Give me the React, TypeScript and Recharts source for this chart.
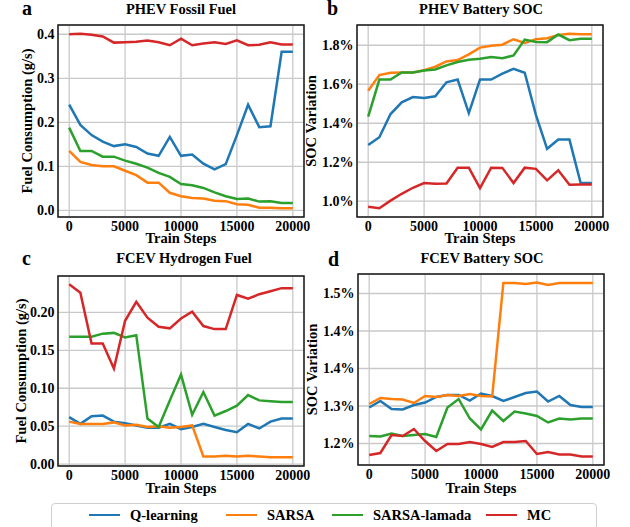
import { LineChart, Line, XAxis, YAxis, CartesianGrid, ReferenceArea } from "recharts";

const FONT = '"Liberation Serif", "Times New Roman", serif';

const steps = [0, 1000, 2000, 3000, 4000, 5000, 6000, 7000, 8000, 9000, 10000, 11000, 12000, 13000, 14000, 15000, 16000, 17000, 18000, 19000, 20000];
const xTicks = [0, 5000, 10000, 15000, 20000];

const seriesNames = ["Q-learning", "SARSA", "SARSA-lamada", "MC"];
const COLORS = ["#1f77b4", "#ff7f0e", "#2ca02c", "#d62728"];

// a - PHEV fossil fuel (g/s)
const fossilQ = [0.240, 0.194, 0.171, 0.156, 0.146, 0.150, 0.144, 0.129, 0.124, 0.167, 0.124, 0.127, 0.106, 0.093, 0.105, 0.171, 0.240, 0.189, 0.191, 0.360, 0.360];
const fossilSarsa = [0.135, 0.110, 0.103, 0.100, 0.100, 0.090, 0.080, 0.063, 0.063, 0.040, 0.032, 0.028, 0.027, 0.022, 0.021, 0.014, 0.013, 0.006, 0.006, 0.005, 0.005];
const fossilLamada = [0.188, 0.135, 0.135, 0.122, 0.122, 0.113, 0.106, 0.097, 0.085, 0.076, 0.060, 0.057, 0.051, 0.041, 0.032, 0.026, 0.027, 0.020, 0.021, 0.017, 0.017];
const fossilMC = [0.400, 0.401, 0.399, 0.395, 0.381, 0.382, 0.383, 0.386, 0.382, 0.375, 0.390, 0.375, 0.379, 0.382, 0.378, 0.386, 0.375, 0.376, 0.382, 0.377, 0.377];

// b - PHEV battery SOC (%)
const phevSocQ = [1.288, 1.328, 1.447, 1.507, 1.534, 1.529, 1.538, 1.610, 1.624, 1.452, 1.624, 1.624, 1.655, 1.679, 1.659, 1.443, 1.269, 1.316, 1.316, 1.093, 1.093];
const phevSocSarsa = [1.567, 1.647, 1.659, 1.660, 1.660, 1.672, 1.690, 1.717, 1.724, 1.753, 1.788, 1.798, 1.803, 1.831, 1.812, 1.831, 1.836, 1.853, 1.859, 1.857, 1.857];
const phevSocLamada = [1.434, 1.624, 1.624, 1.660, 1.660, 1.671, 1.676, 1.697, 1.714, 1.726, 1.731, 1.740, 1.733, 1.748, 1.829, 1.817, 1.816, 1.855, 1.826, 1.833, 1.833];
const phevSocMC = [0.971, 0.964, 1.003, 1.038, 1.069, 1.093, 1.090, 1.091, 1.172, 1.172, 1.067, 1.172, 1.171, 1.093, 1.172, 1.166, 1.107, 1.159, 1.084, 1.086, 1.086];

// c - FCEV hydrogen fuel (g/s)
const h2Q = [0.062, 0.053, 0.063, 0.064, 0.056, 0.054, 0.051, 0.048, 0.048, 0.053, 0.046, 0.049, 0.053, 0.049, 0.045, 0.042, 0.053, 0.047, 0.056, 0.060, 0.060];
const h2Sarsa = [0.056, 0.053, 0.053, 0.053, 0.055, 0.051, 0.052, 0.049, 0.050, 0.048, 0.049, 0.051, 0.010, 0.010, 0.011, 0.010, 0.011, 0.010, 0.009, 0.009, 0.009];
const h2Lamada = [0.168, 0.168, 0.168, 0.172, 0.173, 0.167, 0.170, 0.060, 0.049, 0.084, 0.118, 0.065, 0.095, 0.064, 0.070, 0.077, 0.091, 0.084, 0.083, 0.082, 0.082];
const h2MC = [0.237, 0.226, 0.159, 0.159, 0.126, 0.189, 0.214, 0.193, 0.181, 0.179, 0.192, 0.201, 0.182, 0.178, 0.178, 0.223, 0.218, 0.224, 0.228, 0.232, 0.232];

// d - FCEV battery SOC (%)
const fcevSocQ = [1.272, 1.285, 1.269, 1.268, 1.277, 1.282, 1.293, 1.297, 1.297, 1.286, 1.300, 1.295, 1.285, 1.293, 1.301, 1.304, 1.284, 1.295, 1.277, 1.273, 1.273];
const fcevSocSarsa = [1.279, 1.291, 1.289, 1.288, 1.281, 1.295, 1.293, 1.297, 1.295, 1.299, 1.295, 1.294, 1.521, 1.521, 1.519, 1.522, 1.517, 1.521, 1.521, 1.521, 1.521];
const fcevSocLamada = [1.215, 1.214, 1.220, 1.215, 1.217, 1.219, 1.213, 1.272, 1.289, 1.250, 1.228, 1.266, 1.245, 1.264, 1.260, 1.255, 1.242, 1.250, 1.248, 1.250, 1.250];
const fcevSocMC = [1.177, 1.181, 1.217, 1.215, 1.229, 1.205, 1.185, 1.199, 1.199, 1.203, 1.199, 1.193, 1.203, 1.203, 1.205, 1.179, 1.183, 1.178, 1.178, 1.174, 1.174];

const fossilTicks = [0, 0.1, 0.2, 0.3, 0.4];
const phevSocTicks = [1.0, 1.2, 1.4, 1.6, 1.8];
const h2Ticks = [0, 0.05, 0.1, 0.15, 0.2];
const fcevSocTicks = [1.2, 1.275, 1.35, 1.425, 1.5];
const fcevSocTickLabels = ["1.2%", "1.3%", "1.4%", "1.4%", "1.5%"];

const buildRows = (series: number[][]) =>
  steps.map((step, i) => {
    const row: any = { step };
    seriesNames.forEach((name, k) => {
      row[name] = series[k][i];
    });
    return row;
  });

const tickStyle = { fill: "#000", fontSize: 14, fontWeight: "bold", fontFamily: FONT };
const labelStyle = { fill: "#000", fontSize: 14.5, fontWeight: "bold", fontFamily: FONT };

type PanelProps = {
  left: number;
  top: number;
  width: number;
  series: number[][];
  yDomain: [number, number];
  yTicks: number[];
  yFormat: (v: number) => string;
  yLabel: string;
  yAxisWidth: number;
  yLabelOffset: number;
  marginTop: number;
  marginRight: number;
  xAxisHeight: number;
};

const Panel = (p: PanelProps) => {
  const data = buildRows(p.series);
  return (
    <div style={{ position: "absolute", left: p.left, top: p.top }}>
      <LineChart
        width={p.width}
        height={250}
        data={data}
        margin={{ top: p.marginTop, right: p.marginRight, left: 0, bottom: 0 }}
      >
        <CartesianGrid stroke="#c9c9c9" strokeWidth={1.3} />
        <XAxis
          dataKey="step"
          type="number"
          domain={[-1000, 21000]}
          ticks={xTicks}
          allowDataOverflow
          height={p.xAxisHeight}
          tickLine={false}
          axisLine={false}
          tickSize={0}
          tickMargin={4}
          tick={tickStyle}
          interval={0}
          label={{ value: "Train Steps", position: "insideBottom", offset: 7, style: labelStyle }}
        />
        <YAxis
          type="number"
          domain={p.yDomain}
          ticks={p.yTicks}
          allowDataOverflow
          width={p.yAxisWidth}
          tickLine={false}
          axisLine={false}
          tickSize={0}
          tickMargin={3.5}
          tick={tickStyle}
          interval={0}
          tickFormatter={p.yFormat}
          label={{
            value: p.yLabel,
            angle: -90,
            position: "insideLeft",
            offset: p.yLabelOffset,
            style: { ...labelStyle, textAnchor: "middle" },
          }}
        />
        {seriesNames.map((name, k) => (
          <Line
            key={name}
            dataKey={name}
            stroke={COLORS[k]}
            strokeWidth={2.5}
            dot={false}
            type="linear"
            isAnimationActive={false}
          />
        ))}
        <ReferenceArea
          x1={-1000}
          x2={21000}
          y1={p.yDomain[0]}
          y2={p.yDomain[1]}
          fill="none"
          stroke="#1a1a1a"
          strokeWidth={1.5}
          ifOverflow="visible"
        />
      </LineChart>
    </div>
  );
};

const titles = [
  { letter: "a", text: "PHEV Fossil Fuel", lx: 22, cx: 181, ly: 15, ty: 13.5 },
  { letter: "b", text: "PHEV Battery SOC", lx: 327, cx: 481, ly: 15, ty: 14 },
  { letter: "c", text: "FCEV Hydrogen Fuel", lx: 22, cx: 184, ly: 265, ty: 262.5 },
  { letter: "d", text: "FCEV Battery SOC", lx: 328, cx: 482, ly: 265.5, ty: 262.5 },
];

const legendWidths = [137, 106, 154, 70];

export default function App() {
  return (
    <div
      style={{
        position: "absolute",
        left: 0,
        top: 0,
        width: 630,
        height: 527,
        overflow: "hidden",
        background: "#fff",
        fontFamily: FONT,
      }}
    >
      <Panel
        left={0}
        top={0}
        width={310}
        series={[fossilQ, fossilSarsa, fossilLamada, fossilMC]}
        yDomain={[-0.015, 0.421]}
        yTicks={fossilTicks}
        yFormat={(v) => v.toFixed(1)}
        yLabel="Fuel Consumption (g/s)"
        yAxisWidth={58}
        yLabelOffset={27}
        marginTop={25}
        marginRight={6}
        xAxisHeight={33}
      />
      <Panel
        left={300}
        top={0}
        width={330}
        series={[phevSocQ, phevSocSarsa, phevSocLamada, phevSocMC]}
        yDomain={[0.919, 1.904]}
        yTicks={phevSocTicks}
        yFormat={(v) => v.toFixed(1) + "%"}
        yLabel="SOC Variation"
        yAxisWidth={57}
        yLabelOffset={11}
        marginTop={25}
        marginRight={27}
        xAxisHeight={33}
      />
      <Panel
        left={0}
        top={250}
        width={310}
        series={[h2Q, h2Sarsa, h2Lamada, h2MC]}
        yDomain={[-0.0025, 0.248]}
        yTicks={h2Ticks}
        yFormat={(v) => v.toFixed(2)}
        yLabel="Fuel Consumption (g/s)"
        yAxisWidth={58}
        yLabelOffset={21}
        marginTop={26}
        marginRight={6}
        xAxisHeight={34}
      />
      <Panel
        left={300}
        top={250}
        width={330}
        series={[fcevSocQ, fcevSocSarsa, fcevSocLamada, fcevSocMC]}
        yDomain={[1.157, 1.539]}
        yTicks={fcevSocTicks}
        yFormat={(v) => fcevSocTickLabels[fcevSocTicks.indexOf(v)] ?? v.toFixed(1) + "%"}
        yLabel="SOC Variation"
        yAxisWidth={58}
        yLabelOffset={12}
        marginTop={24}
        marginRight={26}
        xAxisHeight={35}
      />

      <svg
        width={630}
        height={527}
        style={{ position: "absolute", left: 0, top: 0, pointerEvents: "none" }}
      >
        {titles.map((t) => (
          <g key={t.letter}>
            <text x={t.lx} y={t.ly} fontSize={20} fontWeight="bold" fontFamily={FONT} fill="#000">
              {t.letter}
            </text>
            <text
              x={t.cx}
              y={t.ty}
              fontSize={14.5}
              fontWeight="bold"
              fontFamily={FONT}
              fill="#000"
              textAnchor="middle"
            >
              {t.text}
            </text>
          </g>
        ))}
      </svg>

      {/* legend box, bottom edge runs off the page like the original */}
      <div
        style={{
          position: "absolute",
          left: 51,
          top: 503,
          width: 544,
          height: 40,
          border: "1px solid #cfcfcf",
          borderRadius: 4,
          background: "#fff",
        }}
      >
        <div
          style={{
            position: "absolute",
            left: 37,
            top: 3,
            height: 16,
            display: "flex",
            alignItems: "center",
          }}
        >
          {seriesNames.map((name, k) => (
            <div
              key={name}
              style={{ display: "flex", alignItems: "center", width: legendWidths[k] }}
            >
              <span
                style={{
                  display: "inline-block",
                  width: 31,
                  height: 2.5,
                  background: COLORS[k],
                  marginRight: 10,
                }}
              />
              <span style={{ fontSize: 14.5, fontWeight: "bold", color: "#000", whiteSpace: "nowrap" }}>
                {name}
              </span>
            </div>
          ))}
        </div>
      </div>
    </div>
  );
}
